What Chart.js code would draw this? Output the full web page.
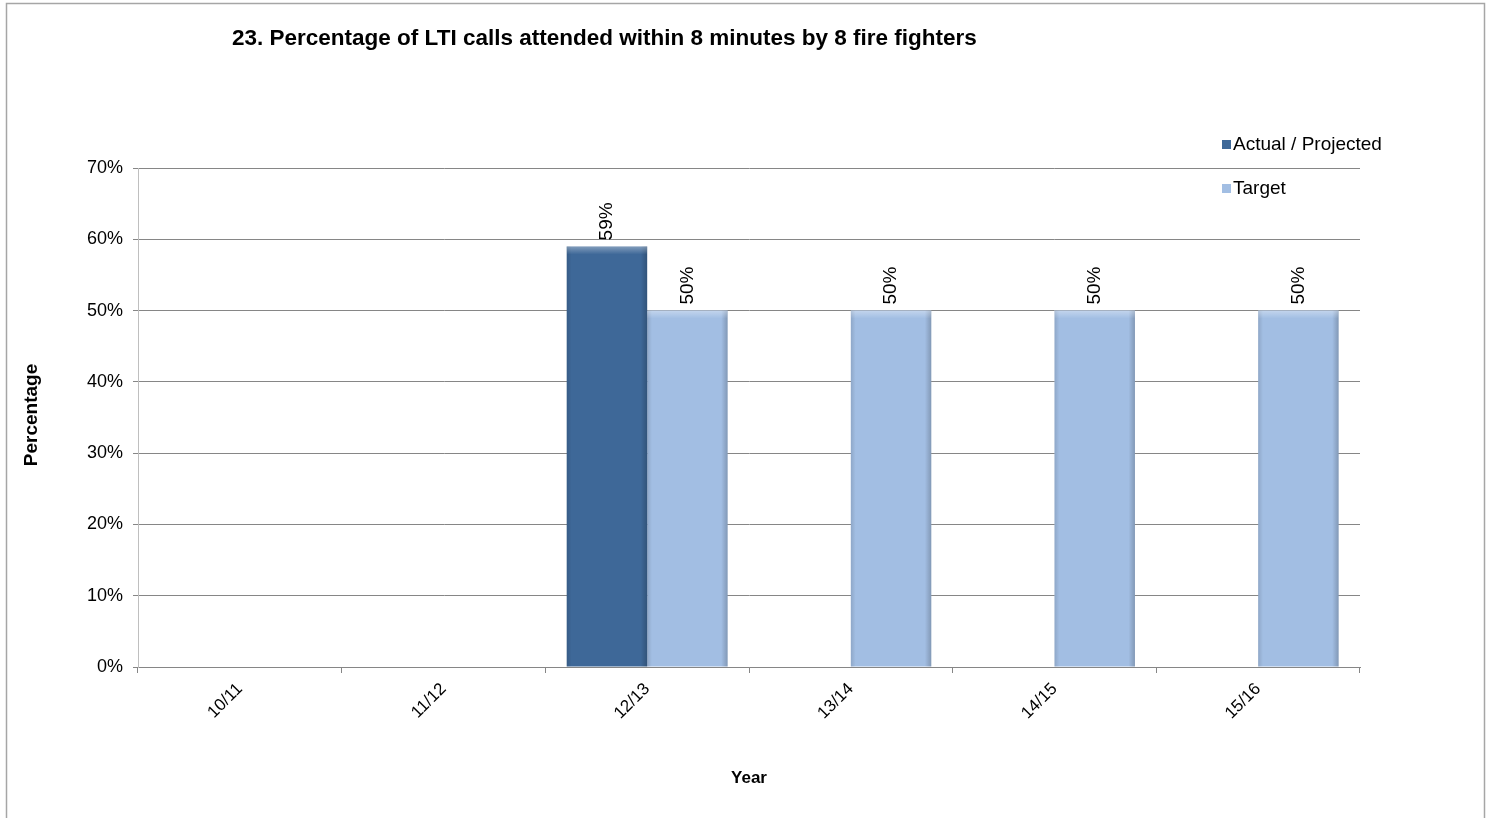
<!DOCTYPE html>
<html>
<head>
<meta charset="utf-8">
<script src="https://cdn.jsdelivr.net/npm/chart.js@4.4.1/dist/chart.umd.min.js"></script>
<style>
  html, body { margin: 0; padding: 0; background: #fff; }
  #wrap { width: 1498px; height: 818px; }
</style>
</head>
<body>
<div id="wrap"><canvas id="chart"></canvas></div>
<script>
const years = ['10/11', '11/12', '12/13', '13/14', '14/15', '15/16'];
const actual = [null, null, 59, null, null, null];
const target = [null, null, 50, 50, 50, 50];
const yTicks = [0, 10, 20, 30, 40, 50, 60, 70];

const chartTitle = '23. Percentage of LTI calls attended within 8 minutes by 8 fire fighters';
const fontFam = 'Arial, "Liberation Sans", sans-serif';

// frame, title, axis titles, legend, value labels
const extras = {
  id: 'extras',
  beforeDraw(chart) {
    const c = chart.ctx;
    c.save();
    c.fillStyle = '#fff';
    c.fillRect(0, 0, chart.width, chart.height);
    c.strokeStyle = '#a6a6a6';
    c.lineWidth = 1.5;
    c.strokeRect(6.5, 3.5, 1478, 840);
    c.restore();
  },
  afterDatasetsDraw(chart) {
    const c = chart.ctx;
    c.save();
    // edge shading on bars
    chart.data.datasets.forEach((ds, i) => {
      chart.getDatasetMeta(i).data.forEach((bar, j) => {
        if (ds.data[j] == null) return;
        const w = bar.width, x0 = bar.x - w / 2, top = bar.y, h = bar.base - bar.y;
        const g = c.createLinearGradient(x0, 0, x0 + w, 0);
        g.addColorStop(0, 'rgba(0,0,0,0.12)');
        g.addColorStop(0.06, 'rgba(0,0,0,0)');
        g.addColorStop(0.92, 'rgba(0,0,0,0)');
        g.addColorStop(1, 'rgba(0,0,0,0.2)');
        c.fillStyle = g;
        c.fillRect(x0, top, w, h);
        const gt = c.createLinearGradient(0, top, 0, top + 8);
        gt.addColorStop(0, 'rgba(255,255,255,0.35)');
        gt.addColorStop(1, 'rgba(255,255,255,0)');
        c.fillStyle = gt;
        c.fillRect(x0, top, w, 8);
        // value label
        c.save();
        c.translate(bar.x, top - 6);
        c.rotate(-Math.PI / 2);
        c.fillStyle = '#000';
        c.font = '19px ' + fontFam;
        c.textAlign = 'left';
        c.textBaseline = 'middle';
        c.fillText(ds.data[j] + '%', 0, 0);
        c.restore();
      });
    });
    c.restore();
  },
  afterDraw(chart) {
    const c = chart.ctx;
    const area = chart.chartArea;
    c.save();
    c.fillStyle = '#000';
    c.font = 'bold 22.5px ' + fontFam;
    c.textAlign = 'left';
    c.textBaseline = 'alphabetic';
    c.fillText(chartTitle, 232, 45);

    c.textBaseline = 'middle';
    c.font = 'bold 17px ' + fontFam;
    c.textAlign = 'center';
    c.fillText('Year', (area.left + area.right) / 2, 778);
    c.save();
    c.font = 'bold 19px ' + fontFam;
    c.translate(32, 415);
    c.rotate(-Math.PI / 2);
    c.fillText('Percentage', 0, 0);
    c.restore();

    // legend
    c.font = '19px ' + fontFam;
    c.textAlign = 'left';
    chart.data.datasets.forEach((ds, i) => {
      const y = 145 + i * 44;
      c.fillStyle = ds.backgroundColor;
      c.fillRect(1222, y - 5, 9, 9);
      c.fillStyle = '#000';
      c.fillText(ds.label, 1233, y);
    });
    c.restore();
  }
};

new Chart(document.getElementById('chart'), {
  type: 'bar',
  data: {
    labels: years,
    datasets: [
      { label: 'Actual / Projected', data: actual, backgroundColor: '#3e6898' },
      { label: 'Target', data: target, backgroundColor: '#a2bee3' }
    ]
  },
  options: {
    responsive: true,
    maintainAspectRatio: false,
    animation: false,
    devicePixelRatio: 1,
    layout: { padding: { top: 168, right: 138, left: 0, bottom: 0 } },
    plugins: { legend: { display: false }, title: { display: false }, tooltip: { enabled: false } },
    datasets: { bar: { categoryPercentage: 0.79, barPercentage: 1 } },
    scales: {
      x: {
        afterFit: s => { s.height = 151; },
        grid: { drawOnChartArea: false, drawTicks: true, tickLength: 6, color: '#868686', offset: true },
        border: { color: '#868686' },
        ticks: {
          color: '#000', font: { size: 17, family: fontFam },
          maxRotation: 45, minRotation: 45, padding: 6
        }
      },
      y: {
        min: 0, max: 70,
        afterFit: s => { s.width = 138; },
        afterBuildTicks: s => { s.ticks = yTicks.map(v => ({ value: v })); },
        grid: { color: '#868686', tickLength: 5 },
        border: { color: '#bfbfbf' },
        ticks: {
          color: '#000', font: { size: 18, family: fontFam }, padding: 10,
          callback: v => v + '%'
        }
      }
    }
  },
  plugins: [extras]
});
</script>
</body>
</html>
